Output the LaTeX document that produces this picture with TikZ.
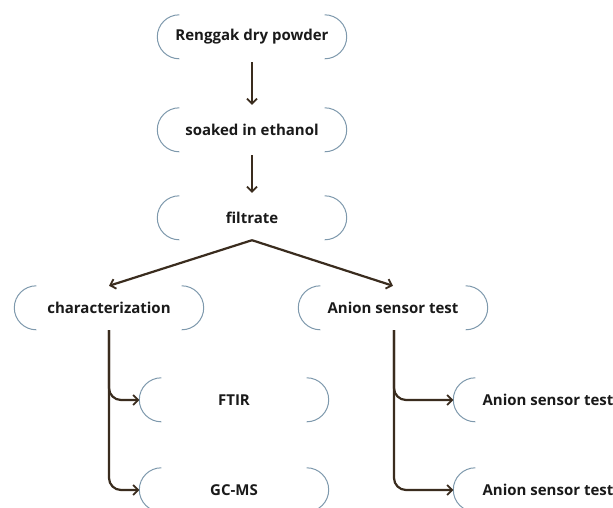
\documentclass[tikz,border=0pt]{standalone}
\usepackage{fontspec}
\setmainfont{Open Sans}
\usetikzlibrary{arrows.meta}
\definecolor{flowline}{HTML}{3A2C1E}
\definecolor{bracketcol}{HTML}{7E99AD}
\definecolor{labeltext}{HTML}{1A1A1A}
\tikzset{
  stage/.style={minimum width=189pt, minimum height=44pt, inner sep=0pt,
    font=\fontsize{15pt}{18pt}\selectfont\bfseries, text=labeltext},
  bracket/.style={draw=bracketcol, line width=1pt},
  flow/.style={draw=flowline, line width=2.2pt,
    -{Straight Barb[length=5pt,width=10pt,line width=1.8pt]}},
  branch/.style={flow, rounded corners=12pt}
}
\newcommand{\brackets}[1]{%
  \draw[bracket] ([xshift=22pt]#1.north west) arc[start angle=90, end angle=270, radius=22pt];
  \draw[bracket] ([xshift=-22pt]#1.north east) arc[start angle=90, end angle=-90, radius=22pt];
}
\begin{document}
\begin{tikzpicture}[x=1pt, y=-1pt]
  \clip (0,0) rectangle (613,508);
  \fill[white] (0,0) rectangle (613,508);

  \node[stage] (powder)   at (252,37)  {Renggak dry powder};
  \node[stage] (soaked)   at (252,130) {soaked in ethanol};
  \node[stage] (filtrate) at (252,218) {filtrate};
  \node[stage] (charac)   at (109,308) {characterization};
  \node[stage] (anion)    at (393,308) {Anion sensor test};
  \node[stage] (ftir)     at (234,400) {FTIR};
  \node[stage] (gcms)     at (234,490) {GC-MS};
  \node[stage] (anionA)   at (548,400) {Anion sensor test};
  \node[stage] (anionB)   at (548,490) {Anion sensor test};

  \foreach \n in {powder,soaked,filtrate,charac,anion,ftir,gcms,anionA,anionB}{
    \brackets{\n}
  }

  \draw[flow, shorten <=3pt, shorten >=3pt] (powder) -- (soaked);
  \draw[flow, shorten <=3pt, shorten >=3pt] (soaked) -- (filtrate);
  \draw[flow] (filtrate.south) -- (charac.north);
  \draw[flow] (filtrate.south) -- (anion.north);

  \draw[branch] (charac.south) |- (ftir.west);
  \draw[branch] (charac.south) |- (gcms.west);
  \draw[branch] ([xshift=1pt]anion.south) |- (anionA.west);
  \draw[branch] ([xshift=1pt]anion.south) |- (anionB.west);
\end{tikzpicture}
\end{document}
